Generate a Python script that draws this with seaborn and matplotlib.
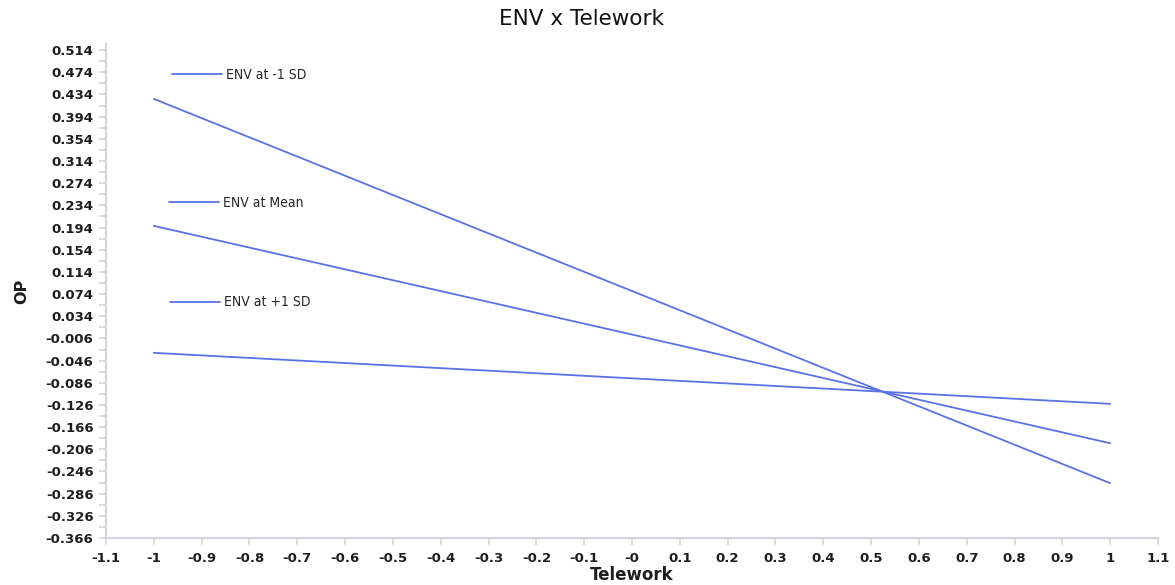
import pandas as pd
import seaborn as sns
import matplotlib.pyplot as plt
from matplotlib.lines import Line2D
from matplotlib.legend import Legend
from matplotlib.ticker import AutoMinorLocator

# Simple slopes at low / mean / high ENV
telework = [-1, 1]
env_minus_1sd = [0.426, -0.267]
env_mean = [0.197, -0.195]
env_plus_1sd = [-0.032, -0.124]
series_names = ['ENV at -1 SD', 'ENV at Mean', 'ENV at +1 SD']

x_ticks = [-1.1, -1.0, -0.9, -0.8, -0.7, -0.6, -0.5, -0.4, -0.3, -0.2, -0.1, 0.0,
           0.1, 0.2, 0.3, 0.4, 0.5, 0.6, 0.7, 0.8, 0.9, 1.0, 1.1]
x_labels = ['-1.1', '-1', '-0.9', '-0.8', '-0.7', '-0.6', '-0.5', '-0.4', '-0.3', '-0.2',
            '-0.1', '-0', '0.1', '0.2', '0.3', '0.4', '0.5', '0.6', '0.7', '0.8', '0.9', '1', '1.1']
y_ticks = [-0.366, -0.326, -0.286, -0.246, -0.206, -0.166, -0.126, -0.086, -0.046, -0.006,
           0.034, 0.074, 0.114, 0.154, 0.194, 0.234, 0.274, 0.314, 0.354, 0.394, 0.434,
           0.474, 0.514]

line_color = '#5a72e6'
axis_color = '#d3d3dc'
text_color = '#1e1e1e'

df = pd.DataFrame({
    'Telework': telework * 3,
    'OP': env_minus_1sd + env_mean + env_plus_1sd,
    'group': [n for n in series_names for _ in telework],
})

sns.set_style('white')
plt.rcParams['font.family'] = ['DejaVu Sans']

fig = plt.figure(figsize=(11.75, 5.85), dpi=100)
ax = fig.add_axes([0.0902, 0.0803, 0.8953, 0.8445])

sns.lineplot(data=df, x='Telework', y='OP', hue='group',
             palette=[line_color] * 3, linewidth=1.3, legend=False, ax=ax)

ax.set_xlim(-1.1, 1.1)
ax.set_ylim(-0.366, 0.525)
ax.set_xticks(x_ticks)
ax.set_xticklabels(x_labels)
ax.set_yticks(y_ticks)
ax.set_yticklabels([('%.3f' % v) for v in y_ticks])
ax.yaxis.set_minor_locator(AutoMinorLocator(2))

for side in ['top', 'right']:
    ax.spines[side].set_visible(False)
for side in ['left', 'bottom']:
    ax.spines[side].set_color(axis_color)
    ax.spines[side].set_linewidth(1.5)

ax.tick_params(axis='both', which='both', direction='out', color=axis_color,
               width=1.2, length=5, labelsize=9.5, labelcolor=text_color)
ax.tick_params(axis='y', which='both', left=True, pad=4)
ax.tick_params(axis='x', which='major', bottom=True, pad=5)
for lbl in ax.get_xticklabels() + ax.get_yticklabels():
    lbl.set_fontweight('bold')

fig.suptitle('ENV x Telework', x=0.495, y=0.985, fontsize=15.5, fontweight='normal',
             color='#111111')
ax.set_xlabel('Telework', fontsize=12, fontweight='bold', labelpad=1, color=text_color)
ax.set_ylabel('OP', fontsize=11.5, fontweight='bold', labelpad=12, color=text_color)

# Separate legend entries placed inside the plot, like the original
legend_spots = [(0.063, 0.937), (0.060, 0.678), (0.061, 0.477)]
for name, spot in zip(series_names, legend_spots):
    handle = Line2D([], [], color=line_color, linewidth=1.3)
    leg = Legend(ax, [handle], [name], loc='center left', bbox_to_anchor=spot,
                 frameon=False, handlelength=3.6, handletextpad=0.3,
                 borderpad=0, borderaxespad=0,
                 prop={'family': 'DejaVu Sans', 'stretch': 'condensed', 'size': 10})
    ax.add_artist(leg)

plt.savefig('out.png', dpi=100)
